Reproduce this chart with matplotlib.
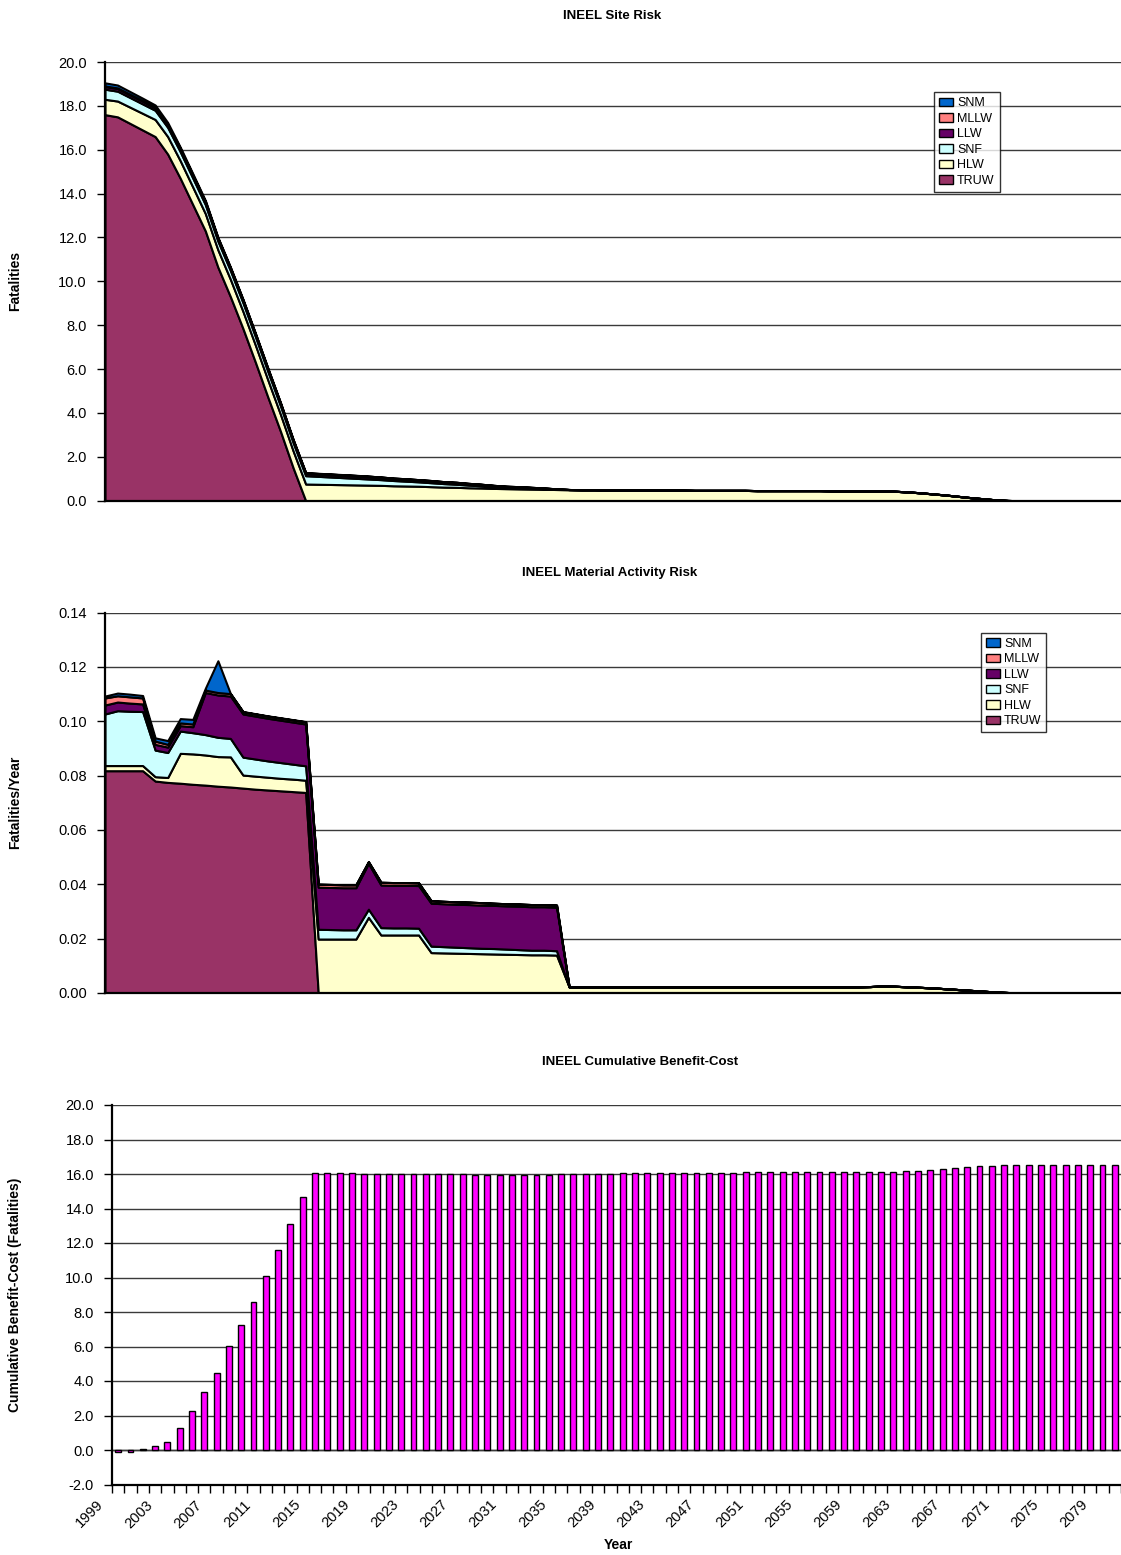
import matplotlib
matplotlib.use('Agg')
import matplotlib.pyplot as plt
from matplotlib.patches import Patch
import matplotlib.transforms as mtransforms
import numpy as np

plt.rcParams['font.family'] = ['Liberation Sans', 'DejaVu Sans']

# ---------------- data ----------------
years = list(range(1999, 2081))
series_names = ['TRUW', 'HLW', 'SNF', 'LLW', 'MLLW', 'SNM']
series_colors = ['#993366', '#FFFFCC', '#CCFFFF', '#660066', '#FF8080', '#0066CC']

# INEEL Site Risk (Fatalities)
site_truw = [17.6, 17.5, 17.2, 16.9, 16.6, 15.8, 14.7, 13.5, 12.3, 10.65, 9.3, 7.85, 6.3, 4.7, 3.15, 1.5, 0.0,
             0, 0, 0, 0, 0, 0, 0, 0, 0, 0, 0, 0, 0, 0, 0, 0, 0, 0, 0, 0, 0,
             0, 0, 0, 0, 0, 0, 0, 0, 0, 0, 0, 0, 0, 0, 0, 0, 0, 0, 0, 0, 0, 0, 0, 0, 0,
             0, 0, 0, 0, 0, 0, 0, 0, 0, 0,
             0, 0, 0, 0, 0, 0, 0, 0, 0]
site_hlw = [0.70, 0.72, 0.74, 0.76, 0.78, 0.80, 0.80, 0.80, 0.79, 0.79, 0.79, 0.78, 0.78, 0.78, 0.77, 0.77, 0.76,
            0.75, 0.74, 0.73, 0.72, 0.71, 0.70, 0.68, 0.67, 0.66, 0.64, 0.62, 0.61, 0.59, 0.58, 0.56, 0.55, 0.54, 0.53, 0.52, 0.51, 0.50,
            0.50, 0.50, 0.49, 0.49, 0.49, 0.48, 0.48, 0.48, 0.48, 0.47, 0.47, 0.47, 0.47, 0.47, 0.46, 0.46, 0.46, 0.46, 0.46, 0.46, 0.45, 0.45, 0.45, 0.45, 0.45,
            0.43, 0.40, 0.36, 0.31, 0.26, 0.20, 0.14, 0.09, 0.04, 0.01,
            0, 0, 0, 0, 0, 0, 0, 0, 0]
site_snf = [0.46, 0.45, 0.44, 0.43, 0.42, 0.42, 0.41, 0.41, 0.41, 0.40, 0.40, 0.40, 0.39, 0.39, 0.39, 0.38, 0.38,
            0.36, 0.34, 0.32, 0.30, 0.28, 0.26, 0.24, 0.22, 0.20, 0.18, 0.16, 0.14, 0.12, 0.10, 0.08, 0.06, 0.05, 0.04, 0.03, 0.02, 0.01,
            0, 0, 0, 0, 0, 0, 0, 0, 0, 0, 0, 0, 0, 0, 0, 0, 0, 0, 0, 0, 0, 0, 0, 0, 0,
            0, 0, 0, 0, 0, 0, 0, 0, 0, 0,
            0, 0, 0, 0, 0, 0, 0, 0, 0]
site_llw = [0.12, 0.12, 0.12, 0.12, 0.11, 0.11, 0.11, 0.11, 0.11, 0.11, 0.10, 0.10, 0.10, 0.10, 0.10, 0.10, 0.10,
            0.10, 0.10, 0.10, 0.10, 0.10, 0.09, 0.09, 0.09, 0.08, 0.08, 0.07, 0.07, 0.06, 0.06, 0.05, 0.04, 0.04, 0.03, 0.02, 0.01, 0.0,
            0, 0, 0, 0, 0, 0, 0, 0, 0, 0, 0, 0, 0, 0, 0, 0, 0, 0, 0, 0, 0, 0, 0, 0, 0,
            0, 0, 0, 0, 0, 0, 0, 0, 0, 0,
            0, 0, 0, 0, 0, 0, 0, 0, 0]
site_mllw = [0.03, 0.03, 0.03, 0.03, 0.03, 0.03, 0.03, 0.03, 0.03, 0.03, 0.03, 0.03, 0.03, 0.03, 0.03, 0.03, 0.03,
             0.03, 0.03, 0.03, 0.03, 0.03, 0.03, 0.02, 0.02, 0.02, 0.02, 0.02, 0.02, 0.02, 0.01, 0.01, 0.01, 0.01, 0.01, 0.01, 0.0, 0.0,
             0, 0, 0, 0, 0, 0, 0, 0, 0, 0, 0, 0, 0, 0, 0, 0, 0, 0, 0, 0, 0, 0, 0, 0, 0,
             0, 0, 0, 0, 0, 0, 0, 0, 0, 0,
             0, 0, 0, 0, 0, 0, 0, 0, 0]
site_snm = [0.14, 0.13, 0.12, 0.11, 0.10, 0.08, 0.07, 0.06, 0.05, 0.03, 0.03, 0.02, 0.02, 0.02, 0.01, 0.01, 0.01,
            0.01, 0.01, 0.01, 0.01, 0, 0, 0, 0, 0, 0, 0, 0, 0, 0, 0, 0, 0, 0, 0, 0, 0,
            0, 0, 0, 0, 0, 0, 0, 0, 0, 0, 0, 0, 0, 0, 0, 0, 0, 0, 0, 0, 0, 0, 0, 0, 0,
            0, 0, 0, 0, 0, 0, 0, 0, 0, 0,
            0, 0, 0, 0, 0, 0, 0, 0, 0]

# INEEL Material Activity Risk (Fatalities/Year)
act_truw = [0.0818, 0.0818, 0.0818, 0.0818, 0.0780, 0.0775, 0.0772, 0.0768, 0.0765, 0.0761, 0.0758, 0.0754, 0.0750, 0.0747, 0.0744, 0.0741, 0.0738,
            0, 0, 0, 0, 0, 0, 0, 0, 0, 0, 0, 0, 0, 0, 0, 0, 0, 0, 0, 0, 0,
            0, 0, 0, 0, 0, 0, 0, 0, 0, 0, 0, 0, 0, 0, 0, 0, 0, 0, 0, 0, 0, 0, 0, 0, 0,
            0, 0, 0, 0, 0, 0, 0, 0, 0, 0,
            0, 0, 0, 0, 0, 0, 0, 0, 0]
act_hlw = [0.0019, 0.0019, 0.0019, 0.0019, 0.0016, 0.0018, 0.0110, 0.0112, 0.0111, 0.0109, 0.0111, 0.0048, 0.0048, 0.0047, 0.0046, 0.0046, 0.0045,
           0.0198, 0.0198, 0.0198, 0.0198, 0.0278, 0.0213, 0.0213, 0.0213, 0.0213, 0.0148, 0.0147, 0.0146, 0.0145, 0.0144, 0.0143, 0.0142, 0.0141, 0.0140, 0.0140, 0.0139, 0.0022,
           0.0022, 0.0022, 0.0022, 0.0022, 0.0022, 0.0022, 0.0022, 0.0022, 0.0022, 0.0022, 0.0022, 0.0022, 0.0022, 0.0022, 0.0022, 0.0022, 0.0022, 0.0022, 0.0022, 0.0022, 0.0022, 0.0022, 0.0022, 0.0023, 0.0025,
           0.0024, 0.0022, 0.0020, 0.0018, 0.0015, 0.0012, 0.0009, 0.0006, 0.0003, 0.0001,
           0, 0, 0, 0, 0, 0, 0, 0, 0]
act_snf = [0.0190, 0.0202, 0.0200, 0.0199, 0.0098, 0.0092, 0.0082, 0.0078, 0.0075, 0.0071, 0.0068, 0.0066, 0.0063, 0.0060, 0.0058, 0.0055, 0.0053,
           0.0036, 0.0035, 0.0034, 0.0034, 0.0030, 0.0027, 0.0026, 0.0026, 0.0025, 0.0024, 0.0023, 0.0022, 0.0021, 0.0020, 0.0020, 0.0019, 0.0018, 0.0017, 0.0017, 0.0016, 0.0,
           0, 0, 0, 0, 0, 0, 0, 0, 0, 0, 0, 0, 0, 0, 0, 0, 0, 0, 0, 0, 0, 0, 0, 0, 0,
           0, 0, 0, 0, 0, 0, 0, 0, 0, 0,
           0, 0, 0, 0, 0, 0, 0, 0, 0]
act_llw = [0.0033, 0.0032, 0.0030, 0.0028, 0.0021, 0.0020, 0.0020, 0.0022, 0.0155, 0.0156, 0.0156, 0.0159, 0.0158, 0.0157, 0.0156, 0.0155, 0.0154,
           0.0155, 0.0155, 0.0155, 0.0155, 0.0169, 0.0157, 0.0157, 0.0157, 0.0157, 0.0158, 0.0158, 0.0158, 0.0159, 0.0159, 0.0159, 0.0159, 0.0160, 0.0160, 0.0160, 0.0160, 0.0,
           0, 0, 0, 0, 0, 0, 0, 0, 0, 0, 0, 0, 0, 0, 0, 0, 0, 0, 0, 0, 0, 0, 0, 0, 0,
           0, 0, 0, 0, 0, 0, 0, 0, 0, 0,
           0, 0, 0, 0, 0, 0, 0, 0, 0]
act_mllw = [0.0026, 0.0023, 0.0023, 0.0022, 0.0012, 0.0010, 0.0010, 0.0010, 0.0009, 0.0009, 0.0009, 0.0008, 0.0008, 0.0008, 0.0008, 0.0008, 0.0008,
            0.0011, 0.0011, 0.0011, 0.0011, 0.0006, 0.0010, 0.0010, 0.0010, 0.0010, 0.0009, 0.0009, 0.0009, 0.0009, 0.0009, 0.0008, 0.0008, 0.0008, 0.0008, 0.0008, 0.0008, 0.0,
            0, 0, 0, 0, 0, 0, 0, 0, 0, 0, 0, 0, 0, 0, 0, 0, 0, 0, 0, 0, 0, 0, 0, 0, 0,
            0, 0, 0, 0, 0, 0, 0, 0, 0, 0,
            0, 0, 0, 0, 0, 0, 0, 0, 0]
act_snm = [0.0007, 0.0010, 0.0010, 0.0009, 0.0012, 0.0014, 0.0016, 0.0017, 0.0007, 0.0117, 0.0, 0.0001, 0.0001, 0.0001, 0.0001, 0.0001, 0.0001,
           0, 0, 0, 0, 0, 0, 0, 0, 0, 0, 0, 0, 0, 0, 0, 0, 0, 0, 0, 0, 0,
           0, 0, 0, 0, 0, 0, 0, 0, 0, 0, 0, 0, 0, 0, 0, 0, 0, 0, 0, 0, 0, 0, 0, 0, 0,
           0, 0, 0, 0, 0, 0, 0, 0, 0, 0,
           0, 0, 0, 0, 0, 0, 0, 0, 0]

# INEEL Cumulative Benefit-Cost (Fatalities)
benefit_cost = [-0.10, -0.12, 0.03, 0.25, 0.45, 1.25, 2.25, 3.35, 4.45, 6.05, 7.25, 8.60, 10.10, 11.60, 13.10, 14.65, 16.05,
                16.05, 16.04, 16.03, 16.02, 16.01, 16.00, 16.00, 15.99, 15.99, 15.98, 15.98, 15.98, 15.97, 15.97, 15.97, 15.97, 15.97, 15.97, 15.97, 15.98, 15.98,
                16.00, 16.01, 16.02, 16.03, 16.04, 16.05, 16.06, 16.06, 16.07, 16.07, 16.08, 16.08, 16.08, 16.09, 16.09, 16.09, 16.09, 16.10, 16.10, 16.10, 16.10, 16.10, 16.11, 16.11, 16.11,
                16.13, 16.16, 16.20, 16.25, 16.30, 16.36, 16.42, 16.46, 16.49, 16.50,
                16.51, 16.51, 16.51, 16.51, 16.51, 16.51, 16.51, 16.51, 16.51]

label_years = years[::4]

# ---------------- figure ----------------
W, H = 1121, 1555
fig = plt.figure(figsize=(W / 100, H / 100), dpi=100)


def axrect(l, t, r, b):
    return [l / W, 1 - b / H, (r - l) / W, (b - t) / H]


ax1 = fig.add_axes(axrect(105, 62, 1121, 500.7))
ax2 = fig.add_axes(axrect(105, 612.7, 1121, 992.8))
ax3 = fig.add_axes(axrect(112, 1105, 1121, 1484.5))


def style(ax):
    for s in ['top', 'right']:
        ax.spines[s].set_visible(False)
    ax.spines['left'].set_linewidth(1.6)
    ax.spines['bottom'].set_linewidth(1.6)
    ax.yaxis.grid(True, color='#3a3a3a', linewidth=1.0)
    ax.set_axisbelow(True)
    ax.tick_params(axis='y', direction='out', length=6, width=1, labelsize=10.5, pad=7)


x = np.arange(len(years))

# Site risk
ax1.stackplot(x, site_truw, site_hlw, site_snf, site_llw, site_mllw, site_snm,
              colors=series_colors, edgecolor='black', linewidth=1.5)
ax1.set_xlim(0, len(years) - 1)
ax1.set_ylim(0, 20)
ax1.set_yticks(np.arange(0, 20.1, 2))
ax1.yaxis.set_major_formatter(matplotlib.ticker.FormatStrFormatter('%.1f'))
ax1.set_xticks([])
style(ax1)
ax1.set_ylabel('Fatalities', fontsize=10, fontweight='bold')
ax1.yaxis.set_label_coords(-0.0815, 0.5)

# Activity risk
ax2.stackplot(x, act_truw, act_hlw, act_snf, act_llw, act_mllw, act_snm,
              colors=series_colors, edgecolor='black', linewidth=1.5)
ax2.set_xlim(0, len(years) - 1)
ax2.set_ylim(0, 0.14)
ax2.set_yticks(np.arange(0, 0.141, 0.02))
ax2.yaxis.set_major_formatter(matplotlib.ticker.FormatStrFormatter('%.2f'))
ax2.set_xticks([])
style(ax2)
ax2.set_ylabel('Fatalities/Year', fontsize=10, fontweight='bold')
ax2.yaxis.set_label_coords(-0.0815, 0.5)

# Cumulative benefit-cost
ax3.bar(x, benefit_cost, width=0.48, color='#FF00FF', edgecolor='black', linewidth=1.0)
ax3.set_xlim(-0.5, len(years) - 0.5)
ax3.set_ylim(-2, 20)
ax3.set_yticks(np.arange(-2, 20.1, 2))
ax3.yaxis.set_major_formatter(matplotlib.ticker.FormatStrFormatter('%.1f'))
style(ax3)
ax3.axhline(0, color='black', linewidth=1.0, zorder=0.5)
ax3.set_xticks(np.arange(-0.5, len(years), 1))
ax3.set_xticklabels([])
ax3.tick_params(axis='x', which='major', direction='out', length=6, width=1)
ax3.set_xticks(x[::4], minor=True)
ax3.set_xticklabels([str(y) for y in label_years], minor=True, rotation=45,
                    ha='right', va='center', rotation_mode='anchor')
ax3.tick_params(axis='x', which='minor', length=0, labelsize=10.5, pad=13)
offset = mtransforms.ScaledTranslation(-0.17, 0, fig.dpi_scale_trans)
for lab in ax3.get_xticklabels(minor=True):
    lab.set_transform(lab.get_transform() + offset)
ax3.set_ylabel('Cumulative Benefit-Cost (Fatalities)', fontsize=10, fontweight='bold')
ax3.yaxis.set_label_coords(-0.089, 0.5)

# Titles and x label
fig.text(612 / W, 1 - 16 / H, 'INEEL Site Risk', ha='center', va='center', fontsize=9.5, fontweight='bold')
fig.text(610 / W, 1 - 573 / H, 'INEEL Material Activity Risk', ha='center', va='center', fontsize=9.5, fontweight='bold')
fig.text(640 / W, 1 - 1062 / H, 'INEEL Cumulative Benefit-Cost', ha='center', va='center', fontsize=9.5, fontweight='bold')
fig.text(618 / W, 1 - 1545 / H, 'Year', ha='center', va='center', fontsize=10, fontweight='bold')

# Legends
handles = [Patch(facecolor=c, edgecolor='black', linewidth=1) for c in series_colors][::-1]
labels = series_names[::-1]
for ax, anchor in [(ax1, (0.816, 0.931)), (ax2, (0.862, 0.947))]:
    leg = ax.legend(handles, labels, loc='upper left', bbox_to_anchor=anchor, frameon=True,
                    fancybox=False, edgecolor='black', fontsize=9, handlelength=1.1,
                    handleheight=0.7, handletextpad=0.35, labelspacing=0.28, borderpad=0.4,
                    borderaxespad=0)
    leg.get_frame().set_linewidth(1)

fig.savefig('out.png', dpi=100, facecolor='white')
